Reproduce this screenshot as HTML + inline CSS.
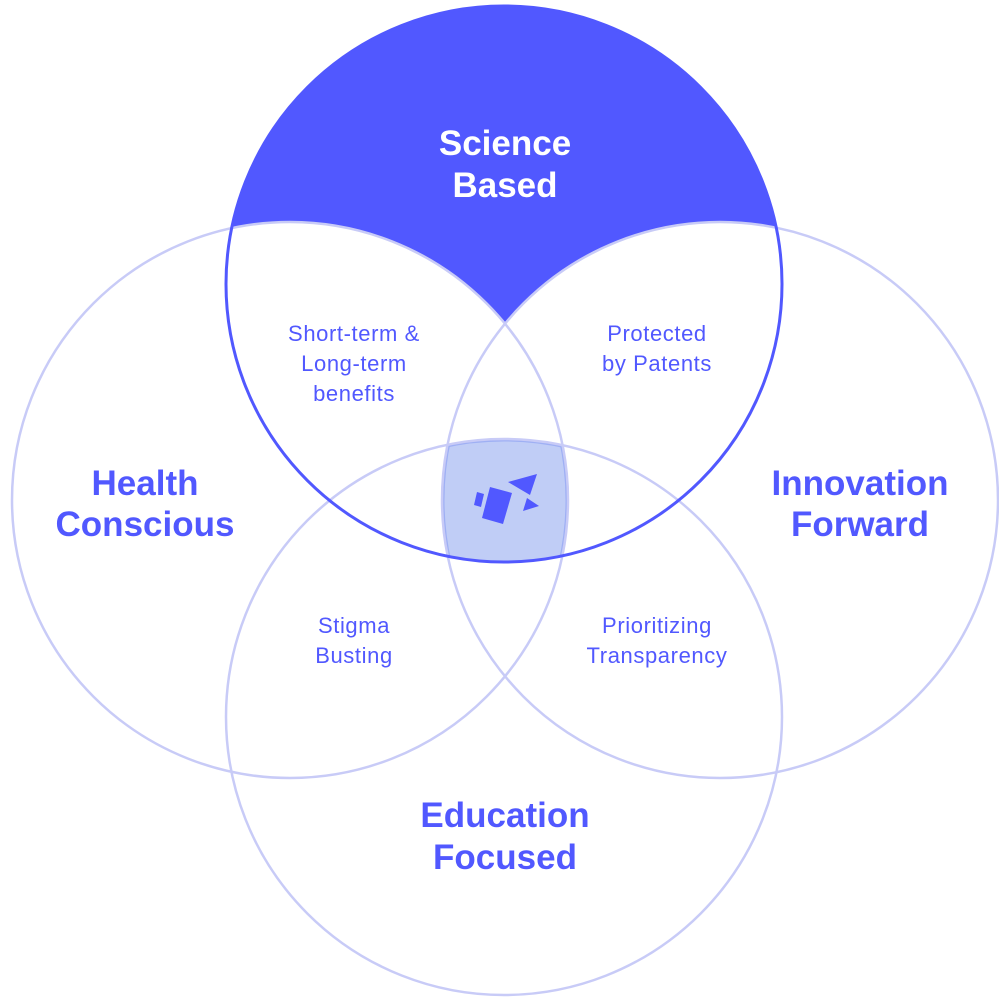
<!DOCTYPE html>
<html><head><meta charset="utf-8"><style>
html,body{margin:0;padding:0;background:#fff;}
svg{display:block;}
.b{font-family:"Liberation Sans",sans-serif;font-weight:bold;font-size:35px;text-anchor:middle;}
.s{font-family:"Liberation Sans",sans-serif;font-size:22px;letter-spacing:0.6px;text-anchor:middle;fill:#5158FF;}
</style></head><body>
<svg width="999" height="999" viewBox="0 0 999 999" xmlns="http://www.w3.org/2000/svg">
<defs>
<clipPath id="cT"><circle cx="504" cy="284" r="278"/></clipPath>
<clipPath id="cL"><circle cx="290" cy="500" r="278"/></clipPath>
<clipPath id="cR"><circle cx="720" cy="500" r="278"/></clipPath>
<clipPath id="cB"><circle cx="504" cy="717" r="278"/></clipPath>
</defs>
<circle cx="504" cy="284" r="278" fill="#5158FF"/>
<circle cx="290" cy="500" r="278" fill="#fff"/>
<circle cx="720" cy="500" r="278" fill="#fff"/>
<g clip-path="url(#cT)"><g clip-path="url(#cL)"><g clip-path="url(#cR)"><g clip-path="url(#cB)">
<rect x="0" y="0" width="999" height="999" fill="#C0CDF6"/>
<g fill="none" stroke="#9FB0F4" stroke-width="5">
<circle cx="290" cy="500" r="278"/>
<circle cx="720" cy="500" r="278"/>
<circle cx="504" cy="717" r="278"/>
</g>
</g></g></g></g>
<g fill="none" stroke="#C8CBF7" stroke-width="2.5">
<circle cx="290" cy="500" r="278"/>
<circle cx="720" cy="500" r="278"/>
<circle cx="504" cy="717" r="278"/>
</g>
<circle cx="504" cy="284" r="278" fill="none" stroke="#5158FF" stroke-width="3"/>
<g fill="#5158FF">
<polygon points="482,518 490,487 512,493 503,524"/>
<polygon points="474,505 477,492 484,494 481,507"/>
<polygon points="508,482 537,474 530,495"/>
<polygon points="527,498 539,506 523,511"/>
</g>
<text class="b" fill="#fff" x="505" y="155">Science</text>
<text class="b" fill="#fff" x="505" y="197">Based</text>
<text class="b" fill="#5158FF" x="145" y="495">Health</text>
<text class="b" fill="#5158FF" x="145" y="536">Conscious</text>
<text class="b" fill="#5158FF" x="860" y="495">Innovation</text>
<text class="b" fill="#5158FF" x="860" y="536">Forward</text>
<text class="b" fill="#5158FF" x="505" y="827">Education</text>
<text class="b" fill="#5158FF" x="505" y="869">Focused</text>
<text class="s" x="354" y="341">Short-term &amp;</text>
<text class="s" x="354" y="371">Long-term</text>
<text class="s" x="354" y="401">benefits</text>
<text class="s" x="657" y="341">Protected</text>
<text class="s" x="657" y="371">by Patents</text>
<text class="s" x="354" y="633">Stigma</text>
<text class="s" x="354" y="663">Busting</text>
<text class="s" x="657" y="633">Prioritizing</text>
<text class="s" x="657" y="663">Transparency</text>
</svg>
</body></html>
